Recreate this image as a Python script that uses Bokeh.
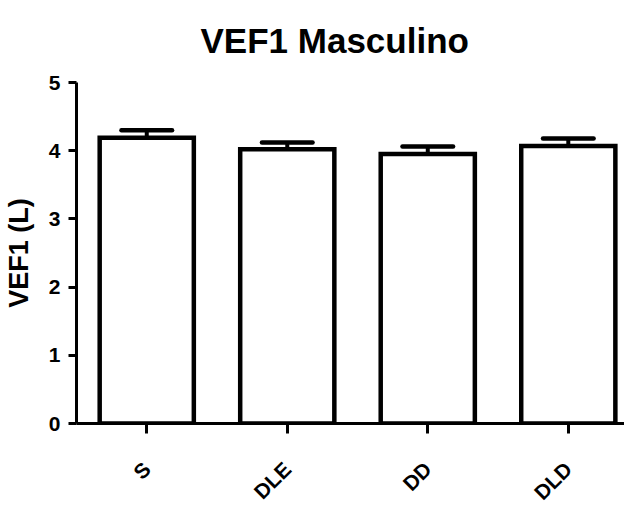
import numpy as np
from bokeh.plotting import figure
from bokeh.models import Range1d, FixedTicker, ColumnDataSource
from bokeh.embed import file_html
from bokeh.resources import INLINE

categories = ["S", "DLE", "DD", "DLD"]
means = [4.19, 4.02, 3.95, 4.07]
sems = [0.11, 0.10, 0.11, 0.11]
y_ticks = [0, 1, 2, 3, 4, 5]

xs = [i + 0.5 for i in range(len(categories))]
tops = [m + s for m, s in zip(means, sems)]
bar_w = 0.67
cap_w = 0.36

src = ColumnDataSource(dict(
    x=xs, top=means, err_top=tops,
    cap_l=[x - cap_w / 2 for x in xs], cap_r=[x + cap_w / 2 for x in xs],
))

FONT = "Liberation Sans"

p = figure(frame_width=548, frame_height=341, output_backend="svg",
           toolbar_location=None,
           x_range=Range1d(0, 3.90), y_range=Range1d(0, 5),
           min_border_left=74, min_border_right=0, min_border_top=82,
           min_border_bottom=60, title="VEF1 Masculino")
p.outline_line_color = None
p.xgrid.grid_line_color = None
p.ygrid.grid_line_color = None
p.background_fill_color = "white"
p.border_fill_color = "white"

p.title.text_font = FONT
p.title.text_font_style = "bold"
p.title.text_font_size = "35px"
p.title.align = "left"
p.title.offset = 124
p.title.vertical_align = "top"
p.title.standoff = 41
p.title.text_color = "black"

# error bars (vertical + cap)
p.segment(x0="x", y0="top", x1="x", y1="err_top", source=src,
          line_color="black", line_width=4)
p.segment(x0="cap_l", y0="err_top", x1="cap_r", y1="err_top", source=src,
          line_color="black", line_width=4.5, line_cap="round")

p.vbar(x="x", top="top", bottom=0, width=bar_w, source=src,
       fill_color="white", line_color="black", line_width=4.5,
       line_join="miter")

# axes
xa = p.xaxis[0]
xa.ticker = FixedTicker(ticks=xs)
xa.major_label_overrides = {x: c for x, c in zip(xs, categories)}
xa.major_label_orientation = np.pi / 4
xa.major_label_standoff = 32
xa.minor_tick_line_color = None
xa.major_tick_in = 0
xa.major_tick_out = 10
xa.axis_line_width = 3
xa.major_tick_line_width = 3
xa.major_label_text_font = FONT
xa.major_label_text_font_style = "bold"
xa.major_label_text_font_size = "21px"
xa.major_label_text_color = "black"

ya = p.yaxis[0]
ya.ticker = FixedTicker(ticks=y_ticks)
ya.minor_tick_line_color = None
ya.major_tick_in = 0
ya.major_tick_out = 8
ya.axis_line_width = 3
ya.major_tick_line_width = 3
ya.major_label_standoff = 8
ya.major_label_text_font = FONT
ya.major_label_text_font_style = "bold"
ya.major_label_text_font_size = "21px"
ya.major_label_text_color = "black"
ya.axis_label = "VEF1 (L)"
ya.axis_label_text_font = FONT
ya.axis_label_text_font_style = "bold"
ya.axis_label_text_font_size = "27px"
ya.axis_label_text_color = "black"
ya.axis_label_standoff = 12

open("out.html", "w").write(file_html(p, INLINE))
